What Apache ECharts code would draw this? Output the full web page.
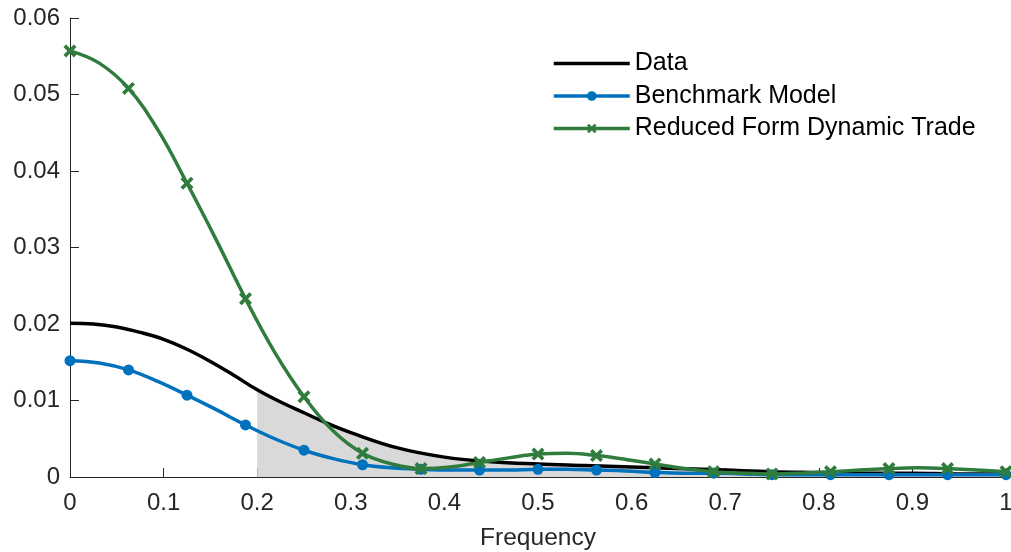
<!DOCTYPE html>
<html>
<head>
<meta charset="utf-8">
<script src="https://cdn.jsdelivr.net/npm/echarts@6/dist/echarts.min.js"></script>
<style>
  html, body { margin: 0; padding: 0; background: #fff; }
  #chart { width: 1011px; height: 552px; }
</style>
</head>
<body>
<div id="chart"></div>
<script>
// Spectral density by frequency.
// Model curves are sampled every 1/32; markers sit on every second sample (every 1/16).
const modelFreq = [0, 0.03125, 0.0625, 0.09375, 0.125, 0.15625, 0.1875, 0.21875, 0.25,
                   0.28125, 0.3125, 0.34375, 0.375, 0.40625, 0.4375, 0.46875, 0.5,
                   0.53125, 0.5625, 0.59375, 0.625, 0.65625, 0.6875, 0.71875, 0.75,
                   0.78125, 0.8125, 0.84375, 0.875, 0.90625, 0.9375, 0.96875, 1.0];
const benchmark = [0.0152, 0.0149, 0.0140, 0.0125, 0.0107, 0.0088, 0.0068, 0.0050, 0.0035,
                   0.0024, 0.0016, 0.0012, 0.0010, 0.0009, 0.0009, 0.0009, 0.0010,
                   0.0010, 0.0009, 0.0008, 0.0006, 0.0005, 0.0005, 0.0004, 0.0003,
                   0.0003, 0.0003, 0.0003, 0.0003, 0.0003, 0.0003, 0.0003, 0.0003];
const reducedForm = [0.0557, 0.0541, 0.0508, 0.0454, 0.0384, 0.0310, 0.0233, 0.0163, 0.0105,
                     0.0060, 0.0031, 0.0017, 0.0011, 0.0013, 0.0019, 0.0025, 0.0030,
                     0.0031, 0.0028, 0.0023, 0.0017, 0.0011, 0.0007, 0.0005, 0.0004,
                     0.0005, 0.0007, 0.0009, 0.0011, 0.0012, 0.0011, 0.0009, 0.0007];

// Observed spectrum, finer sampling where it bends most
const dataFreq = [0, 0.025, 0.05, 0.075, 0.1, 0.125, 0.15, 0.175, 0.2, 0.225, 0.25, 0.275, 0.3,
                  0.35, 0.4, 0.45, 0.5, 0.55, 0.6, 0.65, 0.7, 0.75, 0.8, 0.85, 0.9, 0.95, 1.0];
const dataSpec = [0.0201, 0.0200, 0.0196, 0.0189, 0.0180, 0.0167, 0.0151, 0.0133, 0.0114, 0.0098,
                  0.0084, 0.0070, 0.0058, 0.0038, 0.0026, 0.0020, 0.0017, 0.0015, 0.0013, 0.0011,
                  0.0009, 0.0007, 0.0006, 0.0005, 0.0005, 0.0004, 0.0004];

const bandStart = 0.2;
const xTicks = { min: 0, max: 1, interval: 0.1 };
const yTicks = { min: 0, max: 0.06, interval: 0.01 };

const pairs = (xs, ys) => xs.map((x, i) => [x, ys[i]]);
// every other sample carries a marker
const withMarkers = (xs, ys) => xs.map((x, i) =>
  i % 2 === 0 ? { value: [x, ys[i]] } : { value: [x, ys[i]], symbol: 'none' });

const dataPts = pairs(dataFreq, dataSpec);
const bandPts = dataPts.filter(p => p[0] >= bandStart - 1e-9);

const axisColor = '#262626';
const font = 'Liberation Sans, Arial, Helvetica, sans-serif';
const crossPath = 'path://M0,2L2,0L5,3L8,0L10,2L7,5L10,8L8,10L5,7L2,10L0,8L3,5Z';

const chart = echarts.init(document.getElementById('chart'));
chart.setOption({
  animation: false,
  backgroundColor: '#ffffff',
  textStyle: { fontFamily: font },
  grid: { left: 70, right: 5, top: 18, bottom: 75, containLabel: false, outerBoundsMode: 'none' },
  legend: {
    data: [
      { name: 'Data', itemStyle: { opacity: 0 } },
      { name: 'Benchmark Model' },
      { name: 'Reduced Form Dynamic Trade' }
    ],
    orient: 'vertical',
    left: 547,
    top: 46,
    itemWidth: 76,
    itemHeight: 12,
    itemGap: 7.5,
    lineStyle: { width: 3.5 },
    textStyle: { fontSize: 25, color: '#000', fontFamily: font, lineHeight: 22 }
  },
  xAxis: {
    type: 'value',
    min: xTicks.min, max: xTicks.max, interval: xTicks.interval,
    name: 'Frequency',
    nameLocation: 'middle',
    nameGap: 49,
    nameTextStyle: { fontSize: 24.5, color: axisColor, fontFamily: font },
    axisLine: { show: true, onZero: false, lineStyle: { color: axisColor, width: 1 } },
    axisTick: { show: true, inside: true, length: 9, lineStyle: { color: axisColor } },
    axisLabel: { fontSize: 24, color: axisColor, margin: 14, fontFamily: font },
    splitLine: { show: false }
  },
  yAxis: {
    type: 'value',
    min: yTicks.min, max: yTicks.max, interval: yTicks.interval,
    axisLine: { show: true, onZero: false, lineStyle: { color: axisColor, width: 1 } },
    axisTick: { show: true, inside: true, length: 9, lineStyle: { color: axisColor } },
    axisLabel: { fontSize: 24, color: axisColor, margin: 10, fontFamily: font },
    splitLine: { show: false }
  },
  series: [
    {
      name: 'band',
      type: 'line',
      data: bandPts,
      smooth: 0.4,
      symbol: 'none',
      lineStyle: { width: 0, opacity: 0 },
      areaStyle: { color: '#d9d9d9', opacity: 1 },
      silent: true,
      z: 1
    },
    {
      name: 'Data',
      type: 'line',
      data: dataPts,
      smooth: 0.4,
      symbol: 'none',
      lineStyle: { color: '#000000', width: 3.5 },
      itemStyle: { color: '#000000' },
      z: 2
    },
    {
      name: 'Benchmark Model',
      type: 'line',
      data: withMarkers(modelFreq, benchmark),
      smooth: 0.4,
      symbol: 'circle',
      symbolSize: 11,
      showAllSymbol: true,
      lineStyle: { color: '#0072bd', width: 3.5 },
      itemStyle: { color: '#0072bd' },
      z: 3
    },
    {
      name: 'Reduced Form Dynamic Trade',
      type: 'line',
      data: withMarkers(modelFreq, reducedForm),
      smooth: 0.4,
      symbol: crossPath,
      symbolSize: 13,
      showAllSymbol: true,
      lineStyle: { color: '#2f7c3d', width: 3.5 },
      itemStyle: { color: '#2f7c3d' },
      z: 4
    }
  ]
});
</script>
</body>
</html>
